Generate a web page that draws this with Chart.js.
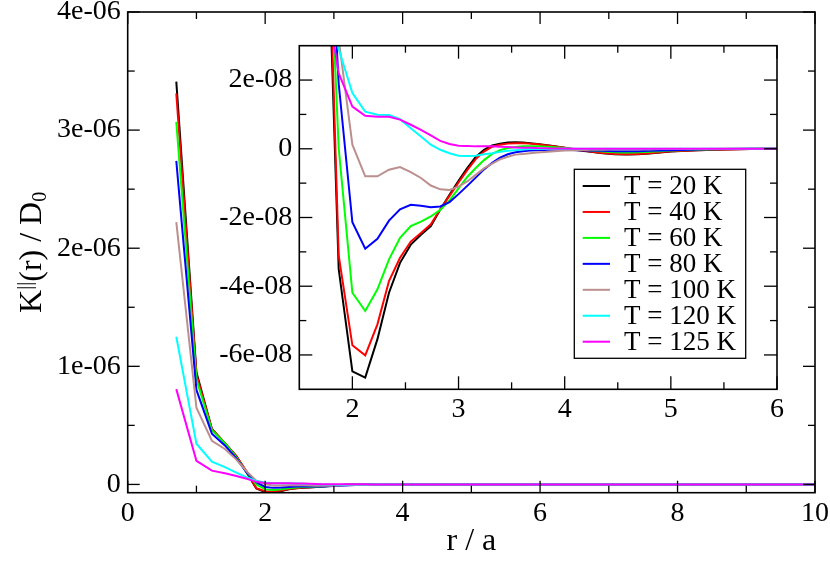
<!DOCTYPE html>
<html><head><meta charset="utf-8">
<script src="https://cdn.jsdelivr.net/npm/chart.js@4.4.0/dist/chart.umd.min.js"></script>
<style>
html,body{margin:0;padding:0;background:#fff;overflow:hidden;}
#wrap{position:relative;width:830px;height:578px;background:#fff;}
#main{position:absolute;left:0;top:0;}
#inset{position:absolute;left:200px;top:35px;}
</style></head><body>
<div id="wrap"><canvas id="main" width="830" height="578"></canvas><canvas id="inset" width="595" height="395"></canvas></div>
<script>
// ---------------- data ----------------
const rValues = [0.707, 1.0, 1.225, 1.414, 1.581, 1.732, 1.871, 2.0, 2.121, 2.236, 2.345, 2.449, 2.55, 2.646, 2.739, 2.828, 2.915, 3.0, 3.082, 3.162, 3.24, 3.317, 3.391, 3.464, 3.536, 3.606, 3.674, 3.742, 3.873, 4.0, 4.123, 4.243, 4.359, 4.472, 4.583, 4.69, 4.796, 4.899, 5.0, 5.25, 5.5, 5.75, 6.0, 7.0, 8.0, 9.0, 10.0];

const kT20 = [3.41e-6, 9.5e-7, 4.7e-7, 3.5e-7, 2.4e-7, 1.0e-7, -3.5e-8, -6.48e-8, -6.66e-8, -5.54e-8, -4.19e-8, -3.32e-8, -2.79e-8, -2.5e-8, -2.25e-8, -1.77e-8, -1.34e-8, -9.3e-9, -5.6e-9, -2.4e-9, -3e-10, 1.0e-9, 1.5e-9, 1.8e-9, 1.9e-9, 1.8e-9, 1.6e-9, 1.4e-9, 9e-10, 3e-10, -4e-10, -9e-10, -1.3e-9, -1.6e-9, -1.7e-9, -1.6e-9, -1.4e-9, -1.1e-9, -8e-10, -4e-10, -2e-10, -1e-10, 0, 0, 0, 0, 0];
const kT40 = [3.31e-6, 9.3e-7, 4.7e-7, 3.5e-7, 2.4e-7, 1.1e-7, -3.1e-8, -5.72e-8, -6.01e-8, -5.11e-8, -3.85e-8, -3.17e-8, -2.7e-8, -2.45e-8, -2.2e-8, -1.76e-8, -1.37e-8, -9.8e-9, -6.2e-9, -3.0e-9, -8e-10, 6e-10, 1.2e-9, 1.5e-9, 1.6e-9, 1.6e-9, 1.5e-9, 1.3e-9, 8e-10, 3e-10, -3e-10, -8e-10, -1.2e-9, -1.5e-9, -1.6e-9, -1.5e-9, -1.3e-9, -1.0e-9, -7e-10, -4e-10, -2e-10, -1e-10, 0, 0, 0, 0, 0];
const kT60 = [3.07e-6, 8.9e-7, 4.6e-7, 3.5e-7, 2.3e-7, 1.0e-7, 2e-10, -4.19e-8, -4.72e-8, -4.09e-8, -3.22e-8, -2.59e-8, -2.25e-8, -2.12e-8, -1.97e-8, -1.78e-8, -1.5e-8, -1.15e-8, -8.2e-9, -5.6e-9, -3.3e-9, -1.5e-9, -4e-10, 2e-10, 5e-10, 7e-10, 7e-10, 7e-10, 5e-10, 2e-10, -2e-10, -5e-10, -8e-10, -1.0e-9, -1.1e-9, -1.0e-9, -9e-10, -7e-10, -5e-10, -3e-10, -1e-10, 0, 0, 0, 0, 0, 0];
const kT80 = [2.74e-6, 8.0e-7, 4.3e-7, 3.3e-7, 2.2e-7, 1.0e-7, 1.9e-8, -2.14e-8, -2.91e-8, -2.62e-8, -2.09e-8, -1.76e-8, -1.63e-8, -1.66e-8, -1.7e-8, -1.68e-8, -1.55e-8, -1.32e-8, -1.08e-8, -8.4e-9, -6.0e-9, -4.1e-9, -2.6e-9, -1.6e-9, -1.0e-9, -7e-10, -5e-10, -4e-10, -3e-10, -3e-10, -4e-10, -5e-10, -6e-10, -7e-10, -7e-10, -7e-10, -6e-10, -5e-10, -4e-10, -2e-10, -1e-10, 0, 0, 0, 0, 0, 0];
const kT100 = [2.22e-6, 6.5e-7, 3.7e-7, 3.0e-7, 2.1e-7, 1.1e-7, 3.2e-8, 1.2e-9, -8.0e-9, -8.0e-9, -6.1e-9, -5.3e-9, -6.8e-9, -8.5e-9, -1.07e-8, -1.18e-8, -1.2e-8, -1.1e-8, -9.5e-9, -7.6e-9, -5.7e-9, -4.3e-9, -3.1e-9, -2.3e-9, -1.7e-9, -1.5e-9, -1.3e-9, -1.1e-9, -8e-10, -5e-10, -4e-10, -3e-10, -3e-10, -2e-10, -2e-10, -2e-10, -2e-10, -1e-10, -1e-10, -1e-10, 0, 0, 0, 0, 0, 0, 0];
const kT120 = [1.25e-6, 3.45e-7, 1.93e-7, 1.46e-7, 1.0e-7, 6.0e-8, 2.9e-8, 1.62e-8, 1.08e-8, 9.9e-9, 9.8e-9, 8.6e-9, 6.0e-9, 3.6e-9, 1.2e-9, -3e-10, -1.3e-9, -2.0e-9, -2.1e-9, -2.0e-9, -1.6e-9, -1.3e-9, -9e-10, -6e-10, -4e-10, -2e-10, -1e-10, -1e-10, -1e-10, 0, 0, 0, 0, 0, 0, 0, 0, 0, 0, 0, 0, 0, 0, 0, 0, 0, 0];
const kT125 = [8.07e-7, 2.0e-7, 1.17e-7, 9.5e-8, 7.2e-8, 4.8e-8, 2.2e-8, 1.23e-8, 9.6e-9, 9.3e-9, 9.3e-9, 8.5e-9, 7.0e-9, 5.5e-9, 3.9e-9, 2.3e-9, 1.4e-9, 9e-10, 8e-10, 7e-10, 7e-10, 7e-10, 6e-10, 5e-10, 4e-10, 3e-10, 3e-10, 2e-10, 1e-10, 1e-10, 0, 0, 0, 0, 0, 0, 0, 0, 0, 0, 0, 0, 0, 0, 0, 0, 0];

const seriesLabels = ['T = 20 K', 'T = 40 K', 'T = 60 K', 'T = 80 K', 'T = 100 K', 'T = 120 K', 'T = 125 K'];
const seriesColors = ['#000000', '#ff0000', '#00ff00', '#0000ff', '#bc8f8f', '#00ffff', '#ff00ff'];
const seriesValues = [kT20, kT40, kT60, kT80, kT100, kT120, kT125];

const mainXTickValues = [0, 2, 4, 6, 8, 10];
const mainXTickLabels = ['0', '2', '4', '6', '8', '10'];
const mainYTickValues = [0, 1e-6, 2e-6, 3e-6, 4e-6];
const mainYTickLabels = ['0', '1e-06', '2e-06', '3e-06', '4e-06'];
const insetXTickValues = [2, 3, 4, 5, 6];
const insetXTickLabels = ['2', '3', '4', '5', '6'];
const insetYTickValues = [-6e-8, -4e-8, -2e-8, 0, 2e-8];
const insetYTickLabels = ['-6e-08', '-4e-08', '-2e-08', '0', '2e-08'];

// ---------------- helpers ----------------
const FONT = '"Liberation Serif", "Times New Roman", serif';
Chart.defaults.font.family = FONT;
Chart.defaults.color = '#000';

function labelFor(values, labels) {
  return function (v) {
    const i = values.findIndex(t => Math.abs(t - v) <= Math.abs(t) * 1e-6 + 1e-15);
    return i >= 0 ? labels[i] : '';
  };
}
function makeDatasets() {
  return seriesValues.map((vals, i) => ({
    label: seriesLabels[i],
    data: rValues.map((r, j) => ({ x: r, y: vals[j] })),
    borderColor: seriesColors[i],
    backgroundColor: seriesColors[i],
    borderWidth: 2,
    pointRadius: 0,
    fill: false,
    tension: 0,
    order: seriesValues.length - i
  }));
}

const frameTicks = {
  id: 'frameTicks',
  afterDatasetsDraw(chart, args, opts) {
    const { ctx, chartArea } = chart;
    const { left, right, top, bottom } = chartArea;
    const xs = chart.scales.x, ys = chart.scales.y;
    ctx.save();
    ctx.strokeStyle = '#000';
    ctx.lineWidth = 1.3;
    const line = (x1, y1, x2, y2) => { ctx.beginPath(); ctx.moveTo(x1, y1); ctx.lineTo(x2, y2); ctx.stroke(); };
    const mids = arr => arr.slice(1).map((v, i) => (v + arr[i]) / 2);
    const xMaj = xs.ticks.map(t => t.value), yMaj = ys.ticks.map(t => t.value);
    xMaj.forEach(v => { const p = xs.getPixelForValue(v); line(p, bottom, p, bottom - opts.major); line(p, top, p, top + opts.major); });
    mids(xMaj).forEach(v => { const p = xs.getPixelForValue(v); line(p, bottom, p, bottom - opts.minor); line(p, top, p, top + opts.minor); });
    yMaj.forEach(v => { const p = ys.getPixelForValue(v); line(left, p, left + opts.major, p); line(right, p, right - opts.major, p); });
    mids(yMaj).forEach(v => { const p = ys.getPixelForValue(v); line(left, p, left + opts.minor, p); line(right, p, right - opts.minor, p); });
    ctx.lineWidth = 1.6;
    ctx.strokeRect(left, top, right - left, bottom - top);
    ctx.restore();
  }
};

const yTitle = {
  id: 'yTitle',
  afterDraw(chart) {
    const ctx = chart.ctx;
    const cy = (chart.chartArea.top + chart.chartArea.bottom) / 2;
    const big = '32px ' + FONT, small = '20px ' + FONT;
    const parts = [
      { t: 'K', f: big, b: 41 },
      { t: '||', f: small, b: 31 },
      { t: '(r) / D', f: big, b: 41 },
      { t: '0', f: small, b: 46 }
    ];
    ctx.save();
    ctx.fillStyle = '#000';
    ctx.textBaseline = 'alphabetic';
    let total = 0;
    parts.forEach(p => { ctx.font = p.f; p.w = ctx.measureText(p.t).width; total += p.w; });
    ctx.translate(0, cy);
    ctx.rotate(-Math.PI / 2);
    let x = -total / 2;
    parts.forEach(p => { ctx.font = p.f; ctx.fillText(p.t, x, p.b); x += p.w; });
    ctx.restore();
  }
};

const insetLegend = {
  id: 'insetLegend',
  afterDraw(chart) {
    const ctx = chart.ctx;
    ctx.save();
    ctx.fillStyle = '#fff';
    ctx.fillRect(374.3, 134.3, 171.4, 189);
    ctx.strokeStyle = '#000';
    ctx.lineWidth = 1.3;
    ctx.strokeRect(374.3, 134.3, 171.4, 189);
    ctx.font = '27px ' + FONT;
    ctx.textBaseline = 'middle';
    ctx.textAlign = 'left';
    chart.data.datasets.forEach((ds, i) => {
      const y = 151 + i * 25.95;
      ctx.strokeStyle = ds.borderColor;
      ctx.lineWidth = 2;
      ctx.beginPath(); ctx.moveTo(382.7, y); ctx.lineTo(410, y); ctx.stroke();
      ctx.fillStyle = '#000';
      ctx.fillText(ds.label, 424, y + 1);
    });
    ctx.restore();
  }
};

function axis(opts) {
  return {
    type: 'linear',
    min: opts.min, max: opts.max,
    grid: { display: false, drawTicks: false },
    border: { display: false },
    afterBuildTicks: s => { s.ticks = opts.values.map(v => ({ value: v })); },
    afterFit: s => {
      if (opts.width !== undefined) s.width = opts.width;
      if (opts.height !== undefined) s.height = opts.height;
      s.paddingTop = 0; s.paddingBottom = 0; s.paddingLeft = 0; s.paddingRight = 0;
    },
    ticks: {
      autoSkip: false, maxRotation: 0, minRotation: 0,
      padding: opts.pad,
      color: '#000',
      font: { family: FONT, size: opts.size },
      callback: labelFor(opts.values, opts.labels)
    },
    title: opts.title || { display: false }
  };
}

// ---------------- main chart ----------------
new Chart(document.getElementById('main'), {
  type: 'line',
  data: { datasets: makeDatasets() },
  options: {
    responsive: false, animation: false, events: [],
    layout: { padding: { left: 0, right: 15, top: 12, bottom: 0 } },
    plugins: { legend: { display: false }, tooltip: { enabled: false }, frameTicks: { major: 12, minor: 7 } },
    scales: {
      x: axis({ min: 0, max: 10, values: mainXTickValues, labels: mainXTickLabels, size: 28, pad: 4, height: 85.3,
        title: { display: true, text: 'r / a', color: '#000', font: { family: FONT, size: 32 }, padding: { top: 0, bottom: 17 } } }),
      y: axis({ min: -7e-8, max: 4e-6, values: mainYTickValues, labels: mainYTickLabels, size: 28, pad: 7, width: 127.7 })
    }
  },
  plugins: [frameTicks, yTitle]
});

// ---------------- inset chart ----------------
new Chart(document.getElementById('inset'), {
  type: 'line',
  data: { datasets: makeDatasets() },
  options: {
    responsive: false, animation: false, events: [],
    layout: { padding: { left: 0, right: 18, top: 10.7, bottom: 0 } },
    plugins: { legend: { display: false }, tooltip: { enabled: false }, frameTicks: { major: 13, minor: 7 } },
    scales: {
      x: axis({ min: 1.5, max: 6, values: insetXTickValues, labels: insetXTickLabels, size: 28, pad: 4, height: 40.7 }),
      y: axis({ min: -7e-8, max: 3e-8, values: insetYTickValues, labels: insetYTickLabels, size: 28, pad: 7, width: 99.3 })
    }
  },
  plugins: [frameTicks, insetLegend]
});
</script></body></html>
